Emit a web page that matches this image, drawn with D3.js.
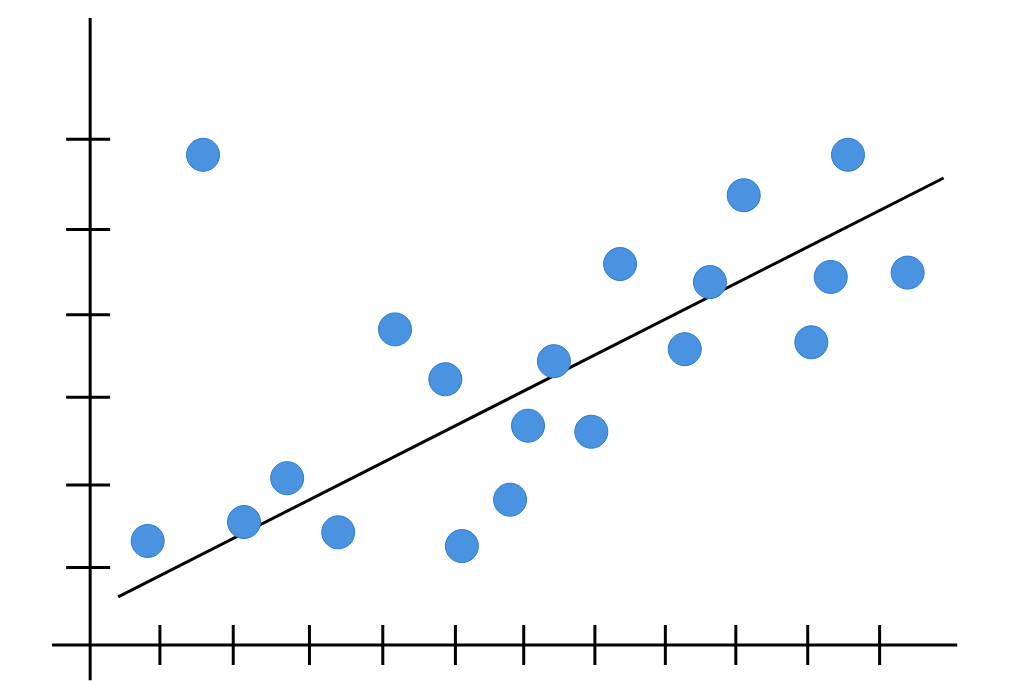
<!DOCTYPE html>
<html>
<head>
  <script src="https://d3js.org/d3.v7.min.js"></script>
  <style>
    body { margin: 0; background: #fff; }
    .axis { stroke: #000; stroke-width: 3; }
    .trend { stroke: #000; stroke-width: 3; }
    .dot { fill: #4a93e0; stroke: #2a7ad6; stroke-width: 1; }
  </style>
</head>
<body>
  <svg id="chart" width="1020" height="681"></svg>
  <script>
    var xs = [0.83, 1.6, 2.17, 2.77, 3.48, 4.27, 4.97, 5.2, 5.87, 6.12, 6.48, 7.0, 7.4, 8.3, 8.65, 9.12, 10.06, 10.33, 10.57, 11.4];
    var ys = [1.21, 5.70, 1.43, 1.94, 1.31, 3.67, 3.09, 1.15, 1.69, 2.55, 3.30, 2.48, 4.43, 3.44, 4.22, 5.23, 3.52, 4.28, 5.70, 4.33];
    var trendX = [0.42, 11.9];
    var trendY = [0.56, 5.43];
    var xTicks = [1, 2.02, 3.08, 4.1, 5.11, 6.06, 7.05, 8.03, 9.01, 10.01, 11.01];
    var yTicks = [0.9, 1.86, 2.88, 3.84, 4.83, 5.88];

    var svg = d3.select("#chart");
    var x = d3.scaleLinear().domain([0, 12]).range([88, 88 + 12 * 71.9]);
    var y = d3.scaleLinear().domain([0, 7]).range([645, 645 - 7 * 86]);

    // axes
    svg.append("line").attr("class", "axis")
      .attr("x1", x(-0.5)).attr("x2", x(12.09)).attr("y1", y(0)).attr("y2", y(0));
    svg.append("line").attr("class", "axis")
      .attr("x1", x(0.03)).attr("x2", x(0.03)).attr("y1", y(7.29)).attr("y2", y(-0.41));

    svg.selectAll(".xt").data(xTicks).enter().append("line")
      .attr("class", "axis")
      .attr("x1", function(d) { return x(d); }).attr("x2", function(d) { return x(d); })
      .attr("y1", y(0) - 20).attr("y2", y(0) + 20);

    svg.selectAll(".yt").data(yTicks).enter().append("line")
      .attr("class", "axis")
      .attr("x1", x(0.03) - 24).attr("x2", x(0.03) + 20)
      .attr("y1", function(d) { return y(d); }).attr("y2", function(d) { return y(d); });

    // trend line
    svg.append("line").attr("class", "trend")
      .attr("x1", x(trendX[0])).attr("y1", y(trendY[0]))
      .attr("x2", x(trendX[1])).attr("y2", y(trendY[1]));

    svg.selectAll(".dot").data(xs).enter().append("circle")
      .attr("class", "dot")
      .attr("cx", function(d) { return x(d); })
      .attr("cy", function(d, i) { return y(ys[i]); })
      .attr("r", 16.5);
  </script>
</body>
</html>
